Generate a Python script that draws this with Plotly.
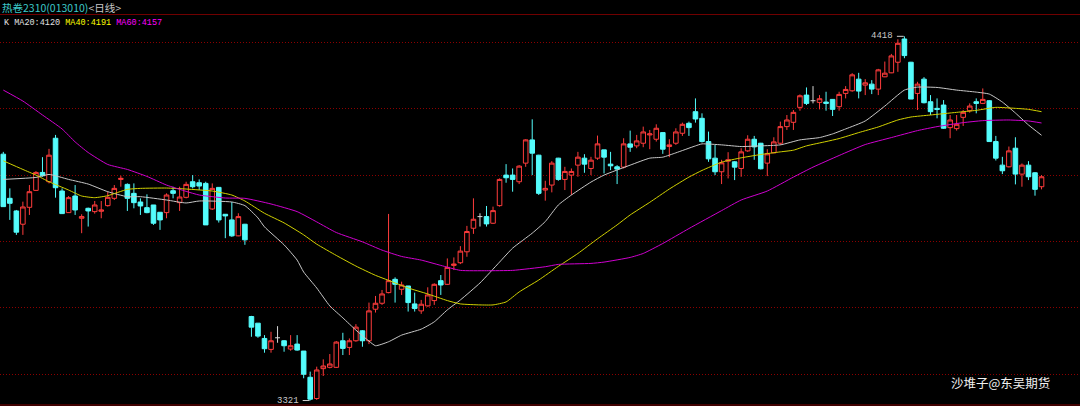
import plotly.graph_objects as go

W, H = 1080, 406
X_RANGE = [-0.505, 164.89]
Y_RANGE = [3304.5, 4527.4]

opens = [4063, 3930, 3892, 3852, 3903, 3954, 4008, 3980, 4111, 3952,
         3887, 3937, 3870, 3900, 3890, 3891, 3908, 3930, 3987, 3972,
         3945, 3919, 3902, 3910, 3888, 3887, 3953, 3917, 3933, 3980,
         3977, 3975, 3898, 3963, 3882, 3865, 3817, 3852, 3574, 3554,
         3508, 3475, 3510, 3501, 3476, 3491, 3470, 3391, 3327, 3417,
         3421, 3421, 3501, 3481, 3501, 3531, 3501, 3596, 3614, 3646,
         3686, 3656, 3666, 3612, 3591, 3606, 3622, 3682, 3671, 3728,
         3736, 3769, 3840, 3875, 3875, 3855, 3908, 4000, 4000, 3980,
         4036, 4106, 4060, 3955, 3970, 4051, 3987, 4000, 4030, 4051,
         4020, 4051, 4076, 4033, 4025, 4024, 4094, 4088, 4096, 4121,
         4108, 4128, 4086, 4096, 4126, 4156, 4191, 4171, 4101, 4051,
         4010, 4042, 4040, 4020, 4073, 4108, 4096, 4036, 4067, 4096,
         4146, 4159, 4204, 4241, 4224, 4219, 4220, 4228, 4206, 4246,
         4254, 4289, 4271, 4274, 4259, 4296, 4308, 4340, 4410, 4340,
         4246, 4289, 4221, 4201, 4211, 4143, 4140, 4174, 4194, 4221,
         4216, 4224, 4101, 4030, 4025, 4081, 4003, 4030, 4007, 3965]
highs = [4070, 3960, 3895, 3920, 3970, 4012, 4054, 4079, 4121, 3960,
         3937, 3970, 3882, 3902, 3922, 3922, 3950, 3970, 3998, 3975,
         3975, 3930, 3942, 3910, 3888, 3945, 3965, 3965, 3980, 4000,
         3987, 3980, 3975, 3964, 3882, 3919, 3885, 3853, 3576, 3554,
         3518, 3528, 3545, 3503, 3518, 3518, 3470, 3408, 3423, 3445,
         3461, 3500, 3525, 3508, 3551, 3533, 3616, 3636, 3654, 3883,
         3692, 3679, 3666, 3646, 3624, 3662, 3674, 3699, 3749, 3752,
         3786, 3847, 3930, 3885, 3907, 3905, 3990, 4033, 4020, 4030,
         4108, 4168, 4061, 3983, 4042, 4052, 4025, 4020, 4070, 4063,
         4055, 4119, 4076, 4070, 4030, 4111, 4134, 4121, 4146, 4136,
         4153, 4128, 4108, 4141, 4158, 4161, 4231, 4186, 4131, 4091,
         4046, 4069, 4042, 4081, 4120, 4118, 4097, 4078, 4114, 4161,
         4181, 4196, 4243, 4264, 4268, 4241, 4251, 4229, 4251, 4268,
         4307, 4308, 4289, 4286, 4320, 4342, 4365, 4409, 4418, 4341,
         4281, 4295, 4241, 4231, 4226, 4181, 4181, 4196, 4216, 4231,
         4261, 4226, 4118, 4055, 4086, 4114, 4035, 4042, 4009, 4000]
lows = [3904, 3865, 3820, 3820, 3880, 3952, 3995, 3975, 3932, 3883,
        3886, 3880, 3825, 3845, 3884, 3870, 3905, 3925, 3965, 3892,
        3900, 3880, 3885, 3850, 3835, 3870, 3930, 3892, 3930, 3960,
        3955, 3850, 3895, 3857, 3810, 3814, 3816, 3790, 3513, 3510,
        3465, 3465, 3495, 3468, 3471, 3471, 3388, 3321, 3323, 3395,
        3418, 3419, 3458, 3458, 3498, 3483, 3491, 3586, 3609, 3644,
        3616, 3639, 3589, 3589, 3582, 3604, 3609, 3639, 3669, 3714,
        3732, 3754, 3823, 3845, 3845, 3853, 3905, 3977, 3950, 3973,
        4025, 4000, 3940, 3923, 3948, 3983, 3955, 3940, 3995, 4007,
        4000, 4046, 4005, 4015, 3973, 4020, 4070, 4081, 4084, 4078,
        4101, 4064, 4054, 4091, 4118, 4118, 4158, 4098, 4040, 4000,
        3973, 3990, 3985, 3995, 4070, 4046, 4017, 3997, 4066, 4091,
        4136, 4136, 4194, 4211, 4216, 4198, 4194, 4178, 4194, 4231,
        4251, 4231, 4241, 4244, 4241, 4295, 4307, 4311, 4352, 4229,
        4196, 4216, 4181, 4171, 4139, 4111, 4134, 4148, 4188, 4186,
        4214, 4101, 4044, 4003, 4023, 3972, 3965, 3985, 3938, 3957]
closes = [3905, 3915, 3828, 3904, 3950, 4008, 3998, 4060, 3962, 3884,
          3932, 3895, 3875, 3892, 3910, 3895, 3933, 3960, 3990, 3930,
          3917, 3907, 3887, 3855, 3865, 3940, 3945, 3934, 3972, 3965,
          3967, 3850, 3960, 3865, 3877, 3817, 3875, 3805, 3542, 3515,
          3477, 3501, 3510, 3486, 3486, 3473, 3400, 3325, 3413, 3425,
          3431, 3497, 3478, 3501, 3542, 3501, 3591, 3614, 3642, 3682,
          3671, 3669, 3616, 3598, 3611, 3639, 3671, 3669, 3722, 3732,
          3771, 3830, 3867, 3875, 3853, 3893, 3987, 3992, 3987, 4027,
          4106, 4066, 3945, 3960, 4036, 3987, 4011, 4011, 4054, 4033,
          4045, 4094, 4054, 4028, 4018, 4094, 4084, 4103, 4130, 4124,
          4141, 4078, 4091, 4130, 4153, 4143, 4169, 4101, 4049, 4010,
          4037, 4046, 4024, 4070, 4108, 4085, 4019, 4064, 4100, 4146,
          4166, 4189, 4239, 4216, 4224, 4230, 4216, 4198, 4243, 4258,
          4302, 4253, 4278, 4259, 4317, 4307, 4359, 4397, 4360, 4229,
          4274, 4218, 4191, 4198, 4141, 4166, 4153, 4189, 4208, 4216,
          4228, 4101, 4051, 4013, 4073, 4003, 4030, 3995, 3957, 3995]
doji_idx = [42, 73, 124]

ma20_idx = [0, 5, 7, 10, 13, 16, 19, 21, 25, 28, 30, 35, 37, 39, 40, 43, 45, 46, 48, 50,
            52, 54, 56, 57, 59, 61, 64, 66, 68, 70, 73, 76, 78, 81, 83, 85, 87, 90, 92, 96,
            99, 101, 103, 106, 107, 110, 113, 116, 119, 122, 125, 127, 129, 132, 135, 138, 140, 143, 146, 149,
            151, 153, 155, 157, 159]
ma20_val = [3987, 3993, 4002, 3987, 3973, 3950, 3935, 3935, 3925, 3916, 3922, 3919, 3908, 3871, 3844, 3790, 3744, 3708, 3660, 3606,
            3570, 3533, 3500, 3486, 3498, 3518, 3536, 3558, 3594, 3624, 3675, 3738, 3780, 3825, 3860, 3910, 3940, 3979, 4000, 4030,
            4051, 4054, 4067, 4088, 4094, 4091, 4086, 4088, 4091, 4106, 4113, 4124, 4139, 4163, 4208, 4256, 4265, 4264, 4256, 4250,
            4244, 4220, 4187, 4151, 4120]
ma40_idx = [0, 3, 5, 7, 10, 12, 14, 16, 19, 21, 25, 28, 32, 35, 37, 40, 43, 46, 48, 51,
            54, 57, 59, 62, 65, 68, 70, 73, 75, 77, 79, 82, 85, 88, 91, 94, 96, 99, 102, 105,
            107, 110, 113, 116, 119, 121, 123, 126, 128, 131, 134, 137, 139, 142, 146, 149, 152, 155, 157, 159]
ma40_val = [4043, 4017, 4000, 3980, 3955, 3937, 3932, 3938, 3957, 3960, 3961, 3958, 3952, 3940, 3922, 3885, 3856, 3820, 3792, 3758,
            3726, 3698, 3683, 3660, 3642, 3622, 3612, 3609, 3609, 3618, 3648, 3684, 3725, 3764, 3808, 3850, 3880, 3918, 3958, 3994,
            4014, 4039, 4052, 4062, 4070, 4075, 4088, 4101, 4110, 4128, 4145, 4166, 4175, 4181, 4189, 4195, 4204, 4201, 4198, 4191]
ma60_idx = [0, 3, 6, 9, 11, 13, 16, 19, 22, 25, 28, 30, 34, 37, 41, 45, 48, 51, 55, 58,
            61, 64, 67, 70, 74, 78, 83, 85, 90, 92, 96, 98, 101, 105, 110, 113, 117, 121, 124, 128,
            132, 136, 140, 143, 147, 150, 154, 157, 159]
ma60_val = [4256, 4223, 4181, 4139, 4100, 4068, 4032, 4017, 3996, 3970, 3951, 3940, 3931, 3930, 3913, 3890, 3859, 3827, 3799, 3774,
            3755, 3744, 3728, 3713, 3712, 3713, 3724, 3731, 3734, 3738, 3752, 3764, 3794, 3839, 3893, 3925, 3952, 3994, 4024, 4059,
            4092, 4113, 4134, 4146, 4158, 4164, 4166, 4163, 4157]

grid_prices = [3400, 3600, 3800, 4000, 4200, 4400]
title_text = "热卷2310(013010)"
period_text = "<日线>"
watermark = "沙堆子@东吴期货"

RED = "#ff3c3c"
CYAN = "#54fcfc"
MA20_C = "#c8c8c8"
MA40_C = "#d2d200"
MA60_C = "#d000d0"
GRID_C = "#8c0000"

n = len(opens)
xs = list(range(n))


def mask(arr):
    return [None if i in doji_idx else v for i, v in enumerate(arr)]


fig = go.Figure()
fig.add_trace(go.Candlestick(
    x=xs, open=mask(opens), high=mask(highs), low=mask(lows), close=mask(closes),
    increasing=dict(line=dict(color=RED, width=1), fillcolor="#000000"),
    decreasing=dict(line=dict(color=CYAN, width=1), fillcolor=CYAN),
    whiskerwidth=0, showlegend=False, hoverinfo="skip"))

# doji crosses
dx, dy = [], []
for i in doji_idx:
    dx += [i, i, None, i - 0.38, i + 0.38, None]
    dy += [lows[i], highs[i], None, opens[i], opens[i], None]
fig.add_trace(go.Scatter(x=dx, y=dy, mode="lines", line=dict(color="#d8d8d8", width=1),
                         showlegend=False, hoverinfo="skip"))

for ix, val, col in [(ma20_idx, ma20_val, MA20_C), (ma40_idx, ma40_val, MA40_C), (ma60_idx, ma60_val, MA60_C)]:
    fig.add_trace(go.Scatter(x=ix, y=val, mode="lines",
                             line=dict(color=col, width=1, shape="spline", smoothing=0.5),
                             showlegend=False, hoverinfo="skip"))

# high / low markers
imax = highs.index(max(highs))
imin = lows.index(min(lows))
for idx, val in [(imax, highs[imax]), (imin, lows[imin])]:
    fig.add_trace(go.Scatter(x=[idx - 1.15, idx - 0.1], y=[val, val], mode="lines",
                             line=dict(color="#d0d0d0", width=1), showlegend=False, hoverinfo="skip"))
    fig.add_annotation(x=idx - 1.45, y=val, xref="x", yref="y", text=str(val), showarrow=False,
                       xanchor="right", yanchor="middle",
                       font=dict(family="Liberation Mono", size=9, color="#c8c8c8"))

# header
fig.add_annotation(x=0, y=1 - 8 / H, xref="paper", yref="paper", xanchor="left", yanchor="middle",
                   showarrow=False,
                   text=f"<span style='color:#3cc8c8'>{title_text}</span>"
                        f"<span style='color:#c8c8c8'>{period_text.replace('<', '&lt;').replace('>', '&gt;')}</span>",
                   font=dict(family="Noto Sans CJK SC", size=10.5, color="#3cc8c8"))
ma_line = (f"<span style='color:#e0e0e0'>K MA20:{ma20_val[-1]}</span> "
           f"<span style='color:#ffff00'>MA40:{ma40_val[-1]}</span> "
           f"<span style='color:#ff00ff'>MA60:{ma60_val[-1]}</span>")
fig.add_annotation(x=2 / W, y=1 - 23 / H, xref="paper", yref="paper", xanchor="left", yanchor="middle",
                   showarrow=False, text=ma_line,
                   font=dict(family="Liberation Mono", size=8.5, color="#e0e0e0"))
fig.add_annotation(x=1 - 28 / W, y=1 - 382.5 / H, xref="paper", yref="paper", xanchor="right", yanchor="middle",
                   showarrow=False, text=watermark,
                   font=dict(family="Noto Sans CJK SC", size=12.5, color="#f0f0f0"))

fig.add_shape(type="line", xref="paper", yref="paper", x0=0, x1=1, y0=1 - 14.5 / H, y1=1 - 14.5 / H,
              line=dict(color="#700000", width=1))
fig.add_shape(type="line", xref="paper", yref="paper", x0=0, x1=1, y0=1 - 405 / H, y1=1 - 405 / H,
              line=dict(color="#800000", width=1))

fig.update_layout(
    width=W, height=H, margin=dict(l=0, r=0, t=0, b=0),
    paper_bgcolor="#000000", plot_bgcolor="#000000",
    boxgap=0.3, boxgroupgap=0,
    xaxis=dict(range=X_RANGE, showgrid=False, zeroline=False, showticklabels=False, showline=False,
               ticks="", rangeslider=dict(visible=False), fixedrange=True),
    yaxis=dict(range=Y_RANGE, tickvals=grid_prices, showgrid=True, gridcolor=GRID_C, griddash="1px,2px",
               gridwidth=1, zeroline=False, showticklabels=False, showline=False, ticks="", fixedrange=True),
    showlegend=False,
)
fig.write_html("out.html", config={"displayModeBar": False},
               post_script="document.body.style.margin='0';document.body.style.background='#000';"
                           "document.body.style.overflow='hidden';")
